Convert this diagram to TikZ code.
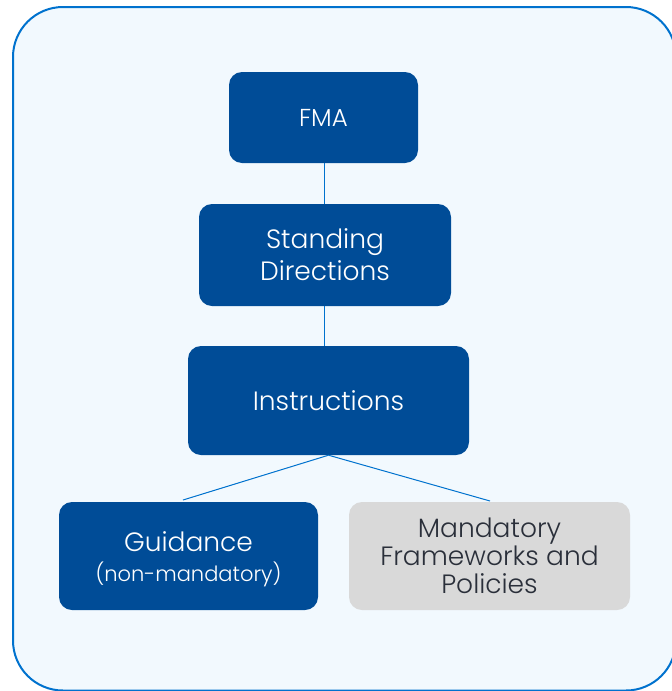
\documentclass[tikz,border=0pt]{standalone}
\usepackage{fontspec}
\setmainfont{Poppins}[UprightFont=* Light]
\definecolor{navy}{RGB}{0,76,151}
\definecolor{edgeblue}{RGB}{0,114,206}
\definecolor{panel}{RGB}{242,249,254}
\definecolor{greybox}{RGB}{217,217,217}
\definecolor{inkgrey}{RGB}{42,47,58}
\begin{document}
\begin{tikzpicture}[x=1pt,y=-1pt,
  box/.style={rounded corners=13pt, inner sep=0pt, align=center, font=\fontsize{26.5}{31}\selectfont},
  bluebox/.style={box, fill=navy, text=white},
  greyboxstyle/.style={box, fill=greybox, text=inkgrey},
  link/.style={draw=edgeblue, line width=1pt}]
  \useasboundingbox (0,0) rectangle (672,691);
  \clip (0,0) rectangle (672,691);
  % panel behind the chart
  \draw[fill=panel, draw=edgeblue, line width=2pt, rounded corners=50pt] (13,7) rectangle (676,690.5);
  % boxes
  \node[bluebox, minimum width=189pt, minimum height=91pt, font=\fontsize{24.5}{28}\selectfont] (fma) at (323.5,117.5) {FMA};
  \node[bluebox, minimum width=252pt, minimum height=102pt, font=\fontsize{26.5}{32}\selectfont] (sd) at (325,255) {Standing\\Directions};
  \node[bluebox, minimum width=281pt, minimum height=109pt] (ins) at (328.5,400.5) {Instructions};
  \node[bluebox, minimum width=259pt, minimum height=108pt] (gui) at (188.5,556) {\raisebox{-4.5pt}[\height][\depth]{\begin{tabular}{@{}c@{}}Guidance\\[-1pt]{\fontsize{21}{24}\selectfont(non-mandatory)}\end{tabular}}};
  \node[greyboxstyle, minimum width=281pt, minimum height=108pt, font=\fontsize{26.5}{28}\selectfont] (mfp) at (489.5,556) {Mandatory\\Frameworks and\\Policies};
  % connectors
  \coordinate (gtop) at (183,500);
  \coordinate (mtop) at (490,501);
  \draw[link] ([xshift=0.5pt]fma.south) -- ([xshift=0.5pt]fma.south |- sd.north);
  \draw[link] ([xshift=0.5pt]fma.south |- sd.south) -- ([xshift=0.5pt]fma.south |- ins.north);
  \draw[link] (ins.south) -- (gtop);
  \draw[link] (ins.south) -- (mtop);
\end{tikzpicture}
\end{document}
